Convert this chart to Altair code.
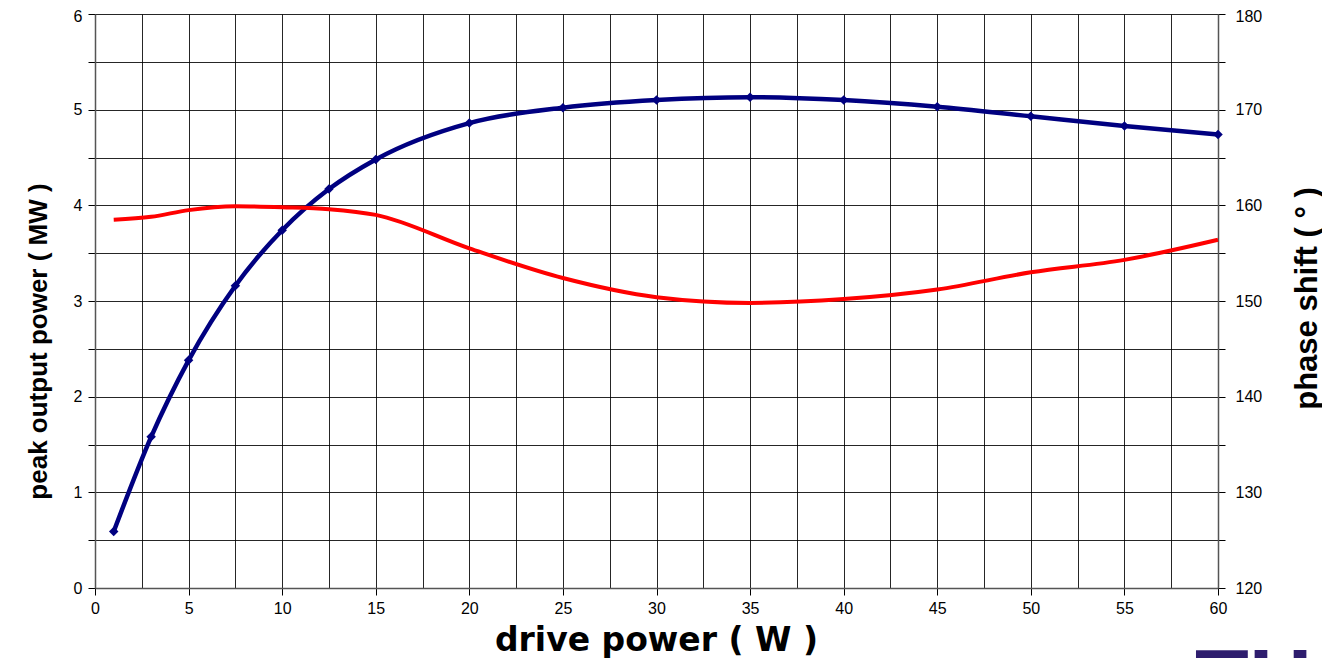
import altair as alt
import pandas as pd

# ---- data ----
drive_power = [1, 3, 5, 7.5, 10, 12.5, 15, 20, 25, 30, 35, 40, 45, 50, 55, 60]
peak_power = [0.59, 1.58, 2.38, 3.16, 3.74, 4.17, 4.48, 4.86, 5.02, 5.10, 5.13, 5.10, 5.03, 4.93, 4.83, 4.74]
phase_shift = [158.5, 158.8, 159.5, 159.9, 159.8, 159.6, 159.0, 155.5, 152.4, 150.4, 149.8, 150.2, 151.2, 153.0, 154.3, 156.4]

x_ticks = [0, 2.5, 5, 7.5, 10, 12.5, 15, 17.5, 20, 22.5, 25, 27.5, 30, 32.5, 35, 37.5,
           40, 42.5, 45, 47.5, 50, 52.5, 55, 57.5, 60]
y_left_ticks = [0, 0.5, 1, 1.5, 2, 2.5, 3, 3.5, 4, 4.5, 5, 5.5, 6]
y_right_ticks = [120, 125, 130, 135, 140, 145, 150, 155, 160, 165, 170, 175, 180]
logo_text = ["TH"]

df_power = pd.DataFrame({"drive": drive_power, "power": peak_power})
df_phase = pd.DataFrame({"drive": drive_power, "phase": phase_shift})
df_logo = pd.DataFrame({"t": logo_text})

LABEL_FONT = "Liberation Sans"

x_axis = alt.Axis(
    values=x_ticks, grid=True, gridColor="#000000", gridWidth=1, gridOpacity=0.85,
    labelExpr="datum.value % 5 === 0 ? format(datum.value, 'd') : ''",
    tickOpacity={"condition": {"test": "datum.value % 5 === 0", "value": 1}, "value": 0},
    tickSize=7, tickColor="#000000", domainColor="#555555", domainWidth=1.5,
    labelFont=LABEL_FONT, labelFontSize=16, labelColor="#000000", labelPadding=5,
    labelOverlap=False, labelFlush=False,
    title="drive power  ( W )", titleFont="DejaVu Sans", titleFontSize=33,
    titleFontWeight="bold", titleColor="#000000",
    titleX=561, titleY=62, titleAlign="center", titleBaseline="alphabetic",
)
x_enc = alt.X("drive:Q", scale=alt.Scale(domain=[0, 60], nice=False, zero=False), axis=x_axis)

left_axis = alt.Axis(
    orient="left", values=y_left_ticks, grid=True, gridColor="#000000", gridWidth=1,
    gridOpacity=0.85,
    labelExpr="datum.value % 1 === 0 ? format(datum.value, 'd') : ''",
    labelOffset={"condition": {"test": "datum.value === 6", "value": 2}, "value": 0},
    tickSize=7, tickColor="#000000", domainColor="#555555", domainWidth=1.5,
    labelFont=LABEL_FONT, labelFontSize=16, labelColor="#000000", labelPadding=6,
    labelOverlap=False, labelFlush=False,
    title="peak output power  ( MW )", titleFont=LABEL_FONT, titleFontSize=26,
    titleFontWeight="bold", titleColor="#000000", titleAngle=270,
    titleX=-57, titleY=327, titleAlign="center", titleBaseline="middle",
)

right_axis = alt.Axis(
    orient="right", values=y_right_ticks, grid=False,
    labelExpr="datum.value % 10 === 0 ? format(datum.value, 'd') : ''",
    labelOffset={"condition": {"test": "datum.value === 180", "value": 2}, "value": 0},
    tickSize=7, tickColor="#000000", domainColor="#555555", domainWidth=1.5,
    labelFont=LABEL_FONT, labelFontSize=16, labelColor="#000000", labelPadding=10,
    labelOverlap=False, labelFlush=False,
    title="phase shift ( ° )", titleFont=LABEL_FONT, titleFontSize=31,
    titleFontWeight="bold", titleColor="#000000", titleAngle=270,
    titleX=89, titleY=284, titleAlign="center", titleBaseline="middle",
)

phase_line = alt.Chart(df_phase).mark_line(
    interpolate="monotone", color="#ff0000", strokeWidth=4
).encode(
    x=x_enc,
    y=alt.Y("phase:Q", scale=alt.Scale(domain=[120, 180], nice=False, zero=False), axis=right_axis),
)

power_line = alt.Chart(df_power).mark_line(
    interpolate="monotone", color="#000080", strokeWidth=4.5,
    point=alt.OverlayMarkDef(shape="diamond", size=90, filled=True, color="#000080"),
).encode(
    x=x_enc,
    y=alt.Y("power:Q", scale=alt.Scale(domain=[0, 6], nice=False, zero=False), axis=left_axis),
)

logo = alt.Chart(df_logo).mark_text(
    font=LABEL_FONT, fontSize=88, fontWeight="bold", color="#2e1d6e",
    align="left", baseline="alphabetic",
).encode(text="t:N", x=alt.value(1100), y=alt.value(696))

chart = alt.layer(power_line, phase_line, logo).resolve_scale(y="independent").properties(
    width=1123, height=574,
    autosize=alt.AutoSizeParams(type="none"),
    padding={"left": 87, "top": 6, "right": 104, "bottom": 70},
    background="white",
).configure_view(stroke=None)

chart.save("out.html", embed_options={"renderer": "svg", "actions": False})
